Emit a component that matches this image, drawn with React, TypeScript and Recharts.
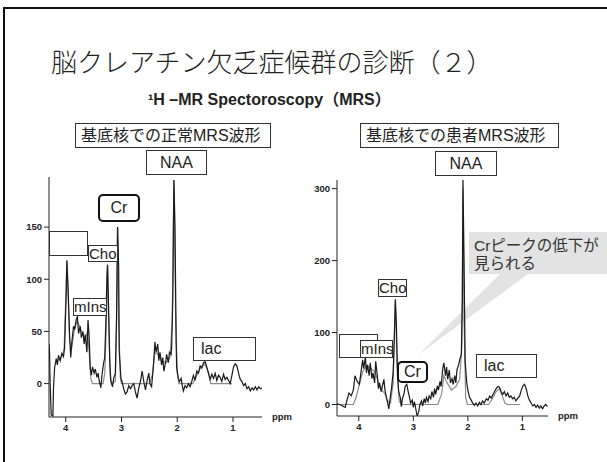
import { Line, LineChart, XAxis, YAxis } from "recharts";

// normal (control) basal ganglia spectrum
const NORMAL_PPM = [
  4.3, 4.29, 4.28, 4.26, 4.23, 4.22, 4.2, 4.17, 4.15, 4.13, 4.1, 4.07, 4.04, 4.02, 3.99, 3.98, 3.96, 3.93, 3.91,
  3.89, 3.86, 3.84, 3.81, 3.79, 3.77, 3.74, 3.72, 3.69, 3.67, 3.65, 3.62, 3.6, 3.58, 3.56, 3.54, 3.52, 3.49, 3.47,
  3.44, 3.42, 3.4, 3.37, 3.35, 3.32, 3.3, 3.28, 3.26, 3.25, 3.23, 3.21, 3.19, 3.16, 3.14, 3.11, 3.09, 3.07, 3.05,
  3.04, 3.01, 2.99, 2.96, 2.93, 2.9, 2.87, 2.84, 2.81, 2.78, 2.75, 2.72, 2.69, 2.66, 2.63, 2.6, 2.57, 2.54, 2.51,
  2.49, 2.46, 2.43, 2.4, 2.38, 2.35, 2.33, 2.31, 2.28, 2.26, 2.24, 2.21, 2.19, 2.16, 2.14, 2.11, 2.1, 2.08, 2.06,
  2.04, 2.02, 2.01, 1.98, 1.96, 1.93, 1.91, 1.89, 1.86, 1.83, 1.8, 1.77, 1.74, 1.71, 1.68, 1.65, 1.62, 1.59, 1.56,
  1.53, 1.5, 1.47, 1.44, 1.41, 1.38, 1.35, 1.32, 1.29, 1.26, 1.23, 1.2, 1.17, 1.14, 1.11, 1.08, 1.05, 1.02, 0.99,
  0.96, 0.93, 0.9, 0.87, 0.84, 0.81, 0.78, 0.75, 0.72, 0.69, 0.66, 0.63, 0.6, 0.57, 0.54, 0.51, 0.48,
];
const NORMAL_RAW = [
  38, 30, 0, -30, -31, -5, 15, 24, 18, 27, 22, 29, 26, 35, 90, 118, 95, 45, 25,
  40, 55, 52, 62, 64, 48, 55, 44, 50, 38, 47, 30, 61, 45, 15, 8, 16, 10, 14,
  6, 10, 3, -4, 8, 20, 25, 60, 105, 114, 70, 20, 2, -3, 5, 10, 60, 150, 110,
  30, 5, 2, -5, -10, -8, -2, -5, -2, 0, -8, -14, -4, 2, 12, 2, -6, 3, 10,
  0, -3, 15, 40, 30, 38, 22, 30, 18, 25, 12, 20, 28, 20, 30, 28, 35, 80, 195,
  150, 40, 15, 5, 2, 5, -2, -7, -2, -4, 0, -3, 2, 8, 3, 12, 10, 17, 15,
  20, 21, 16, 10, 4, 9, 5, 10, 3, 8, 6, 2, 9, 4, 6, 3, 0, 8, 16,
  19, 17, 10, 4, 2, -2, 0, -5, -3, -7, -4, -6, -3, -6, -3, -5, -4,
];
const NORMAL_FIT_PPM = [
  4.15, 4.08, 4.03, 4.0, 3.98, 3.96, 3.93, 3.89, 3.85, 3.8, 3.75, 3.7, 3.65, 3.61, 3.58, 3.55, 3.52, 3.33, 3.3,
  3.27, 3.25, 3.23, 3.2, 3.16, 3.11, 3.09, 3.07, 3.05, 3.02, 3.0, 2.5, 2.45, 2.4, 2.35, 2.28, 2.2, 2.13, 2.09,
  2.06, 2.03, 2.0, 1.97, 1.72, 1.65, 1.58, 1.5, 1.44, 1.4, 1.02,
];
const NORMAL_FIT = [
  22, 25, 32, 80, 118, 90, 40, 35, 50, 60, 55, 48, 42, 50, 30, 5, 0, 0, 10,
  60, 114, 60, 5, 0, 2, 50, 150, 60, 5, 0, 0, 8, 30, 28, 22, 20, 25, 60,
  195, 70, 10, 0, 0, 8, 15, 19, 10, 0, 0,
];

// patient basal ganglia spectrum
const PATIENT_PPM = [
  4.4, 4.35, 4.3, 4.25, 4.21, 4.18, 4.14, 4.1, 4.07, 4.03, 3.99, 3.96, 3.93, 3.91, 3.88, 3.86, 3.84, 3.81, 3.79,
  3.76, 3.74, 3.71, 3.69, 3.66, 3.64, 3.62, 3.59, 3.57, 3.54, 3.52, 3.49, 3.47, 3.45, 3.42, 3.4, 3.37, 3.35, 3.33,
  3.31, 3.29, 3.27, 3.24, 3.22, 3.2, 3.17, 3.15, 3.12, 3.1, 3.07, 3.05, 3.02, 3.0, 2.98, 2.95, 2.93, 2.9, 2.88,
  2.85, 2.83, 2.8, 2.78, 2.76, 2.73, 2.71, 2.68, 2.66, 2.63, 2.61, 2.59, 2.56, 2.54, 2.51, 2.49, 2.46, 2.44, 2.41,
  2.39, 2.37, 2.34, 2.32, 2.29, 2.27, 2.24, 2.22, 2.2, 2.17, 2.15, 2.12, 2.1, 2.09, 2.07, 2.05, 2.02, 2.0, 1.97,
  1.94, 1.91, 1.88, 1.85, 1.82, 1.79, 1.76, 1.73, 1.7, 1.66, 1.63, 1.6, 1.57, 1.54, 1.51, 1.48, 1.45, 1.42, 1.39,
  1.36, 1.33, 1.3, 1.27, 1.24, 1.21, 1.18, 1.15, 1.12, 1.09, 1.05, 1.02, 0.99, 0.96, 0.93, 0.9, 0.87, 0.84, 0.81,
  0.78, 0.75, 0.72, 0.69, 0.66, 0.63, 0.6, 0.57, 0.54,
];
const PATIENT_RAW = [
  1, 0, -2, -4, 8, 16, 12, 20, 40, 32, 28, 45, 62, 50, 66, 44, 55, 40, 58,
  36, 44, 30, 60, 40, 22, 30, 18, 25, 35, 20, 8, 2, -6, 12, 22, 45, 90, 146,
  110, 40, 18, 10, -3, 8, 15, 25, 28, 20, 10, 2, 6, -4, 4, -8, -16, -10, 0,
  5, -2, 8, 2, 10, 4, 12, 8, 18, 10, 22, 14, 26, 20, 32, 25, 50, 58, 40,
  52, 35, 48, 30, 36, 28, 40, 30, 48, 55, 62, 70, 150, 313, 200, 60, 30, 20, 10,
  6, 2, -1, 2, -2, 3, 0, 5, 2, 8, 6, 12, 9, 14, 18, 22, 25, 24, 18,
  14, 18, 12, 16, 10, 12, 8, 10, 5, 8, 12, 20, 26, 28, 22, 12, 6, 2, -2,
  0, -4, -1, -5, -2, -6, -2, 0, -3,
];
const PATIENT_FIT_PPM = [
  4.38, 4.1, 4.05, 4.0, 3.93, 3.86, 3.78, 3.7, 3.64, 3.58, 3.52, 3.47, 3.42, 3.37, 3.33, 3.3, 3.26, 3.22, 2.55,
  2.48, 2.44, 2.38, 2.3, 2.22, 2.15, 2.11, 2.09, 2.07, 2.04, 2.01, 1.62, 1.55, 1.48, 1.42, 1.37, 1.32, 1.28, 1.04,
];
const PATIENT_FIT = [
  0, 0, 10, 25, 45, 55, 50, 45, 30, 20, 15, 5, 2, 30, 146, 60, 5, 0, 0,
  15, 40, 30, 20, 25, 35, 80, 300, 120, 10, 0, 0, 8, 18, 22, 12, 2, 0, 0,
];

const X_TICKS = [4, 3, 2, 1];
const NORMAL_Y_TICKS = [0, 50, 100, 150];
const PATIENT_Y_TICKS = [0, 100, 200, 300];

const JP = '"Liberation Sans", "Noto Sans CJK JP", sans-serif';
const SANS = '"Liberation Sans", Arial, sans-serif';
const tickStyle = { fill: "#222", fontSize: 9.5, fontWeight: 700, fontFamily: SANS };

function pairs(ppm: number[], vals: number[]) {
  return ppm.map((p, i) => ({ ppm: p, v: vals[i] }));
}

function Spectrum({
  raw,
  fit,
  xDomain,
  yDomain,
  yTicks,
  margin,
}: {
  raw: { ppm: number; v: number }[];
  fit: { ppm: number; v: number }[];
  xDomain: [number, number];
  yDomain: [number, number];
  yTicks: number[];
  margin: { top: number; right: number; bottom: number; left: number };
}) {
  return (
    <LineChart width={300} height={270} margin={margin}>
      <XAxis
        dataKey="ppm"
        type="number"
        reversed
        domain={xDomain}
        ticks={X_TICKS}
        allowDataOverflow
        height={20}
        tickSize={5}
        tickMargin={2}
        stroke="#222"
        tick={tickStyle}
        label={{
          value: "ppm",
          position: "right",
          offset: 10,
          dy: -10,
          fill: "#222",
          fontSize: 9.5,
          fontWeight: 700,
          fontFamily: SANS,
        }}
      />
      <YAxis
        type="number"
        domain={yDomain}
        ticks={yTicks}
        allowDataOverflow
        width={30}
        tickSize={5}
        tickMargin={2}
        stroke="#222"
        tick={tickStyle}
      />
      <Line data={fit} dataKey="v" type="linear" stroke="#8c8c8c" strokeWidth={1.2} dot={false} isAnimationActive={false} />
      <Line data={raw} dataKey="v" type="linear" stroke="#1a1a1a" strokeWidth={1.2} dot={false} isAnimationActive={false} />
    </LineChart>
  );
}

function Box({
  x,
  y,
  w,
  h,
  text,
  size = 15,
  thick = false,
  align = "left",
  pad = 0,
}: {
  x: number;
  y: number;
  w: number;
  h: number;
  text?: string;
  size?: number;
  thick?: boolean;
  align?: "left" | "center";
  pad?: number;
}) {
  return (
    <div
      style={{
        position: "absolute",
        left: x,
        top: y,
        width: w,
        height: h,
        boxSizing: "border-box",
        border: thick ? "2.5px solid #111" : "1px solid #333",
        borderRadius: thick ? 5 : 0,
        background: "#fff",
        fontFamily: JP,
        fontSize: size,
        lineHeight: `${h - (thick ? 5 : 2)}px`,
        color: "#222",
        textAlign: align,
        paddingLeft: pad,
        whiteSpace: "nowrap",
      }}
    >
      {text}
    </div>
  );
}

export default function App() {
  return (
    <div
      style={{
        position: "absolute",
        left: 0,
        top: 0,
        width: 607,
        height: 462,
        background: "#fff",
        overflow: "hidden",
      }}
    >
      <div
        style={{
          position: "absolute",
          left: 3,
          top: 7,
          width: 700,
          height: 600,
          borderTop: "2px solid #111",
          borderLeft: "2px solid #111",
        }}
      />
      <div
        style={{
          position: "absolute",
          left: 51,
          top: 48,
          fontFamily: '"Noto Sans CJK JP", sans-serif',
          fontWeight: 300,
          fontSize: 26,
          lineHeight: "26px",
          color: "#222",
          whiteSpace: "nowrap",
        }}
      >
        脳クレアチン欠乏症候群の診断（２）
      </div>
      <div
        style={{
          position: "absolute",
          left: 148,
          top: 91,
          fontFamily: JP,
          fontWeight: 700,
          fontSize: 16,
          lineHeight: "18px",
          color: "#222",
          whiteSpace: "nowrap",
        }}
      >
        ¹H –MR Spectoroscopy（MRS）
      </div>

      {/* callout, behind the patient chart */}
      <svg style={{ position: "absolute", left: 0, top: 0 }} width={607} height={462}>
        <polygon points="469,232 607,232 607,274 528,274 418,355 500,274 469,274" fill="#e3e3e3" />
      </svg>
      <div
        style={{
          position: "absolute",
          left: 474,
          top: 237,
          fontFamily: JP,
          fontSize: 15.5,
          lineHeight: "18px",
          color: "#333",
          whiteSpace: "nowrap",
        }}
      >
        Crピークの低下が
        <br />
        見られる
      </div>

      <div style={{ position: "absolute", left: 10, top: 170 }}>
        <Spectrum
          raw={pairs(NORMAL_PPM, NORMAL_RAW)}
          fit={pairs(NORMAL_FIT_PPM, NORMAL_FIT)}
          xDomain={[0.48, 4.3]}
          yDomain={[-32, 198]}
          yTicks={NORMAL_Y_TICKS}
          margin={{ top: 7, right: 48, bottom: 3, left: 9 }}
        />
      </div>
      <div style={{ position: "absolute", left: 300, top: 170 }}>
        <Spectrum
          raw={pairs(PATIENT_PPM, PATIENT_RAW)}
          fit={pairs(PATIENT_FIT_PPM, PATIENT_FIT)}
          xDomain={[0.53, 4.4]}
          yDomain={[-16, 312]}
          yTicks={PATIENT_Y_TICKS}
          margin={{ top: 10, right: 52, bottom: 4, left: 7 }}
        />
      </div>

      {/* left panel labels */}
      <Box x={75} y={123} w={196} h={25} text="基底核での正常MRS波形" size={16} pad={5} />
      <Box x={146} y={150} w={61} h={25} text="NAA" size={16} align="center" />
      <Box x={49} y={231} w={39} h={25} />
      <Box x={88} y={245} w={30} h={17} text="Cho" />
      <Box x={98} y={194} w={42} h={28} text="Cr" size={16} thick align="center" />
      <Box x={73} y={298} w={34} h={18} text="mIns" />
      <Box x={193} y={337} w={63} h={24} text="lac" size={16} pad={7} />

      {/* right panel labels */}
      <Box x={360} y={123} w={199} h={25} text="基底核での患者MRS波形" size={16} pad={5} />
      <Box x={435} y={151} w={62} h={25} text="NAA" size={16} align="center" />
      <Box x={378} y={279} w={29} h={18} text="Cho" />
      <Box x={339} y={334} w={39} h={24} />
      <Box x={360} y={340} w={33} h={18} text="mIns" />
      <Box x={397} y={361} w={31} h={22} text="Cr" size={16} thick align="center" />
      <Box x={476} y={354} w={61} h={24} text="lac" size={16} pad={7} />
    </div>
  );
}
